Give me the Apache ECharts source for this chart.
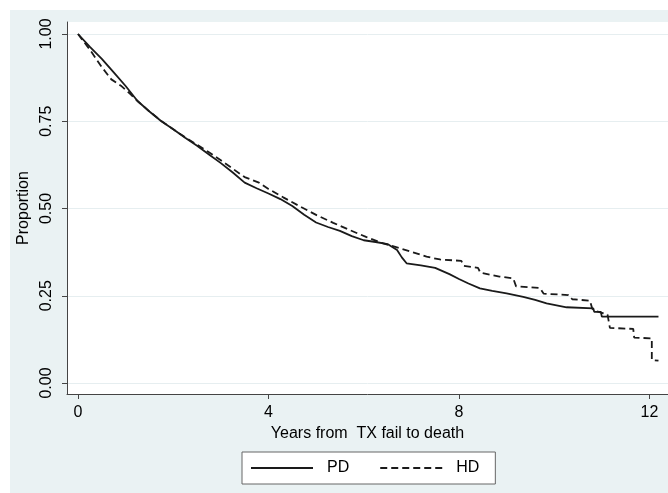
<!DOCTYPE html>
<html>
<head>
<meta charset="utf-8">
<script src="https://cdn.jsdelivr.net/npm/echarts@6/dist/echarts.min.js"></script>
<style>
html, body { margin: 0; padding: 0; background: #fff; }
#main { width: 668px; height: 493px; }
</style>
</head>
<body>
<div id="main"></div>
<script>
// survival curves
var pdTime = [0, 0.25, 0.5, 0.75, 1.0, 1.25, 1.5, 1.75, 2.0, 2.25, 2.5, 2.75, 3.0, 3.25, 3.5, 3.75, 4.0, 4.25, 4.5, 4.75,
    5.0, 5.25, 5.5, 5.75, 6.0, 6.25, 6.5, 6.7, 6.8, 6.9, 7.2, 7.5, 7.8, 8.0, 8.2, 8.44, 8.7, 9.0, 9.35, 9.6,
    9.84, 10.26, 10.82, 10.84, 10.98, 11.0, 12.19];
var pdSurv = [1.000, 0.963, 0.929, 0.890, 0.851, 0.808, 0.778, 0.750, 0.727, 0.703, 0.680, 0.655, 0.630, 0.603, 0.574, 0.558, 0.543, 0.527, 0.507, 0.482,
    0.460, 0.447, 0.436, 0.421, 0.409, 0.404, 0.398, 0.381, 0.360, 0.343, 0.337, 0.330, 0.312, 0.298, 0.285, 0.271, 0.264, 0.257, 0.247, 0.238,
    0.228, 0.217, 0.214, 0.204, 0.204, 0.190, 0.190];

var hdTime = [0, 0.25, 0.5, 0.7, 0.9, 1.1, 1.25, 1.5, 1.75, 2.0, 2.25, 2.5, 2.75, 3.0, 3.25, 3.5, 3.8, 4.0, 4.31, 4.66,
    5.01, 5.36, 5.71, 6.06, 6.41, 6.76, 7.0, 7.32, 7.6, 8.05, 8.1, 8.4, 8.45, 8.85, 9.14, 9.2, 9.7, 9.78, 10.3, 10.38,
    10.75, 10.8, 10.9, 11.12, 11.17, 11.66, 11.68, 12.05, 12.05, 12.19];
var hdSurv = [1.000, 0.955, 0.905, 0.870, 0.852, 0.828, 0.808, 0.778, 0.751, 0.727, 0.704, 0.683, 0.661, 0.638, 0.614, 0.590, 0.574, 0.556, 0.532, 0.506,
    0.481, 0.459, 0.438, 0.418, 0.400, 0.386, 0.376, 0.362, 0.354, 0.350, 0.336, 0.330, 0.316, 0.305, 0.300, 0.277, 0.272, 0.256, 0.252, 0.240,
    0.236, 0.213, 0.205, 0.196, 0.158, 0.155, 0.130, 0.128, 0.066, 0.064];

var xTicks = [0, 4, 8, 12];
var yTicks = [0, 0.25, 0.5, 0.75, 1];
var groups = ['PD', 'HD'];

function pairs(t, s) {
    var out = [];
    for (var i = 0; i < t.length; i++) out.push([t[i], s[i]]);
    return out;
}

var font = "'Liberation Sans', Arial, sans-serif";
var chart = echarts.init(document.getElementById('main'));
chart.setOption({
    backgroundColor: '#fff',
    animation: false,
    graphic: [{
        type: 'rect', z: -10, silent: true,
        shape: { x: 10, y: 10, width: 658, height: 483 },
        style: { fill: '#eaf2f3' }
    }],
    grid: {
        left: 67, top: 22, right: 0, bottom: 99,
        show: true, backgroundColor: '#fff', borderWidth: 0
    },
    legend: {
        data: groups,
        left: 242, top: 452,
        padding: [8, 16, 8, 8],
        itemWidth: 62, itemHeight: 14, itemGap: 30,
        itemStyle: { opacity: 0 },
        backgroundColor: '#fff',
        borderColor: '#666', borderWidth: 1, borderRadius: 0,
        textStyle: { fontFamily: font, fontSize: 16, color: '#000', padding: [0, 0, 0, 9] }
    },
    xAxis: {
        type: 'value',
        min: -0.231, max: 12.39,
        name: 'Years from  TX fail to death',
        nameLocation: 'middle', nameGap: 30,
        nameTextStyle: { fontFamily: font, fontSize: 16, color: '#000' },
        axisLine: { onZero: false, lineStyle: { color: '#444', width: 1 } },
        axisTick: { customValues: xTicks, length: 5, lineStyle: { color: '#444' } },
        axisLabel: { customValues: xTicks, margin: 11, fontFamily: font, fontSize: 16, color: '#000' },
        splitLine: { show: false }
    },
    yAxis: {
        type: 'value',
        min: -0.0315, max: 1.0344,
        name: 'Proportion',
        nameLocation: 'middle', nameGap: 26, nameRotate: 90,
        nameTextStyle: { fontFamily: font, fontSize: 16, color: '#000' },
        axisLine: { show: true, onZero: false, lineStyle: { color: '#444', width: 1 } },
        axisTick: { show: true, customValues: yTicks, length: 5, lineStyle: { color: '#444' } },
        axisLabel: {
            customValues: yTicks, rotate: 90, margin: 12,
            fontFamily: font, fontSize: 16, color: '#000',
            formatter: function (v) { return v.toFixed(2); }
        },
        splitLine: { show: true, lineStyle: { color: '#e6eef0', width: 1 } }
    },
    series: [
        {
            name: 'PD', type: 'line', symbol: 'none', clip: false,
            data: pairs(pdTime, pdSurv),
            lineStyle: { color: '#1a1a1a', width: 1.8, type: 'solid' },
            itemStyle: { color: '#1a1a1a' }
        },
        {
            name: 'HD', type: 'line', symbol: 'none', clip: false,
            data: pairs(hdTime, hdSurv),
            lineStyle: { color: '#1a1a1a', width: 1.8, type: [7, 4] },
            itemStyle: { color: '#1a1a1a' }
        }
    ]
});
</script>
</body>
</html>
